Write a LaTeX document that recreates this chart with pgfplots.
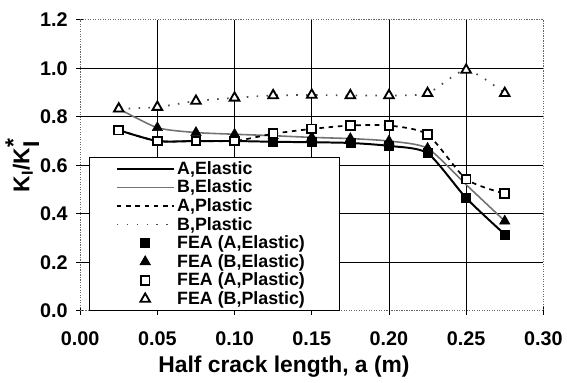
\documentclass[border=0pt]{standalone}
\usepackage{fontspec}
\setmainfont{Liberation Sans}
\usepackage{pgfplots}
\pgfplotsset{compat=1.18}

\pgfplotstableread{
x      AE     BE     AP     BP
0.025  0.745  0.833  0.745  0.833
0.050  0.700  0.755  0.700  0.840
0.075  0.700  0.735  0.700  0.865
0.100  0.700  0.728  0.700  0.878
0.125  0.697  0.722  0.730  0.888
0.150  0.695  0.715  0.750  0.890
0.175  0.692  0.710  0.764  0.888
0.200  0.680  0.700  0.764  0.888
0.225  0.650  0.670  0.727  0.897
0.250  0.465  0.520  0.543  0.993
0.275  0.315  0.370  0.483  0.897
}\curves

\pgfplotstableread{
x      AE     AP     BP
0.025  0.745  0.745  0.833
0.050  0.700  0.700  0.840
0.075  0.700  0.700  0.865
0.100  0.700  0.700  0.878
0.125  0.697  0.730  0.888
0.150  0.695  0.750  0.890
0.175  0.692  0.764  0.888
0.200  0.680  0.764  0.888
0.225  0.650  0.727  0.897
0.250  0.465  0.543  0.993
0.275  0.315  0.483  0.897
}\fea

\pgfplotstableread{
x      BE
0.025  0.833
0.050  0.755
0.075  0.735
0.100  0.728
0.125  0.722
0.150  0.715
0.175  0.710
0.200  0.700
0.225  0.670
0.275  0.370
}\feabe

\begin{document}
\begin{tikzpicture}
\begin{axis}[
  scale only axis, width=351pt, height=220.5pt,
  xmin=0, xmax=0.30, ymin=0, ymax=1.2,
  xtick={0,0.05,0.1,0.15,0.2,0.25,0.3},
  ytick={0,0.2,0.4,0.6,0.8,1.0,1.2},
  extra x ticks={0.05,0.1,0.15,0.2,0.25},
  extra y ticks={0.2,0.4,0.6,0.8,1.0},
  extra x tick labels={}, extra y tick labels={},
  extra tick style={grid=major, major tick length=0pt},
  grid style={black, line width=0.5pt},
  xtick pos=bottom, ytick pos=left,
  tick align=center, major tick length=6pt,
  tick style={black, line width=0.6pt},
  axis line style={black!60, densely dotted, line width=0.9pt},
  /pgf/number format/assume math mode=true,
  every tick label/.append style={font=\fontsize{15}{17}\selectfont\bfseries},
  xticklabel style={yshift=-9pt, /pgf/number format/.cd, fixed, fixed zerofill, precision=2},
  yticklabel style={xshift=-3pt, /pgf/number format/.cd, fixed, fixed zerofill, precision=1},
  xlabel={\textbf{Half crack length, a (m)}},
  ylabel={\textbf{K\textsubscript{I}/K$^{\textbf{*}}_{\textbf{I}}$}},
  label style={font=\fontsize{17.3}{19}\selectfont\bfseries},
  xlabel style={at={(axis description cs:0.44,0)}, anchor=base, yshift=-47pt},
  ylabel style={at={(axis description cs:-0.125,0.5)}, anchor=center},
  legend style={at={(axis description cs:0.0192,0)}, anchor=south west,
    draw=black, line width=0.6pt, fill=white,
    font=\fontsize{13.5}{15}\selectfont\bfseries,
    inner xsep=20pt, inner ysep=1pt, row sep=-1.2pt},
  legend cell align=left,
  linelegend/.style={legend image code/.code={\draw[##1] (0pt,0pt) -- (43pt,0pt);}},
  marklegend/.style={legend image code/.code={\draw[##1, mark repeat=2, mark phase=2] plot coordinates {(0pt,0pt) (21.5pt,0pt) (43pt,0pt)};}},
]
\addplot[black, line width=1.5pt, smooth, tension=0.4, linelegend] table[x=x,y=AE] {\curves};
\addlegendentry{A,Elastic}
\addplot[black!55, line width=1.2pt, smooth, tension=0.4, linelegend] table[x=x,y=BE] {\curves};
\addlegendentry{B,Elastic}
\addplot[black, line width=1.3pt, dash pattern=on 3.5pt off 3.5pt, smooth, tension=0.4, linelegend] table[x=x,y=AP] {\curves};
\addlegendentry{A,Plastic}
\addplot[black!70, line width=1.3pt, dash pattern=on 1.2pt off 6.3pt, smooth, tension=0.4, linelegend] table[x=x,y=BP] {\curves};
\addlegendentry{B,Plastic}
\addplot[only marks, mark=square*, mark size=3.4pt, mark options={fill=black, draw=black}, marklegend] table[x=x,y=AE] {\fea};
\addlegendentry{FEA (A,Elastic)}
\addplot[only marks, mark=triangle*, mark size=4.5pt, mark options={fill=black, draw=black}, marklegend] table[x=x,y=BE] {\feabe};
\addlegendentry{FEA (B,Elastic)}
\addplot[only marks, mark=square*, mark size=3.3pt, mark options={fill=white, draw=black, line width=1.4pt}, marklegend] table[x=x,y=AP] {\fea};
\addlegendentry{FEA (A,Plastic)}
\addplot[only marks, mark=triangle*, mark size=4.2pt, mark options={fill=white, draw=black, line width=1.4pt}, marklegend] table[x=x,y=BP] {\fea};
\addlegendentry{FEA (B,Plastic)\hspace*{4pt}}
\end{axis}
\path (current axis.south west) ++(-60.75pt,-51.75pt) rectangle ++(425.25pt,287.25pt);
\end{tikzpicture}
\end{document}
